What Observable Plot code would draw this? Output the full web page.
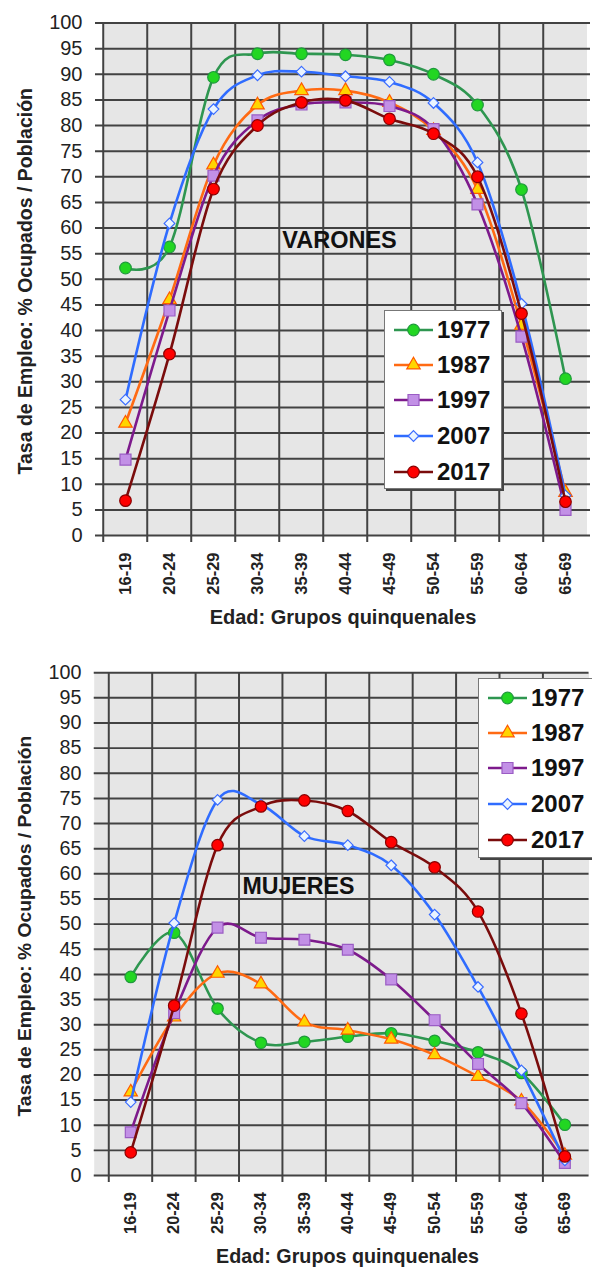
<!DOCTYPE html>
<html><head><meta charset="utf-8">
<script src="https://cdn.jsdelivr.net/npm/d3@7"></script>
<script src="https://cdn.jsdelivr.net/npm/@observablehq/plot@0.6"></script>
<style>
body{margin:0;background:#fff;font-family:"Liberation Sans",Arial,sans-serif;}
#wrap{position:relative;width:592px;height:1274px;overflow:hidden;background:#fff;}
.panel{position:absolute;left:0;}
.legend{position:absolute;background:#fff;border:1px solid #777;box-shadow:2px 2px 0 #444;}
.legend .row{position:absolute;left:0;height:30px;display:flex;align-items:center;}
.legend .row span{font-weight:bold;font-size:24px;color:#111;margin-left:4px;line-height:30px;}
</style></head><body><div id="wrap"></div>
<script>
// ---------- DATA ----------
const ages = ["16-19","20-24","25-29","30-34","35-39","40-44","45-49","50-54","55-59","60-64","65-69"];
const years = ["1977","1987","1997","2007","2017"];
const yTicks = [0,5,10,15,20,25,30,35,40,45,50,55,60,65,70,75,80,85,90,95,100];

// Varones
const varones1977 = [52.2, 56.3, 89.4, 94.0, 94.0, 93.8, 92.8, 90.0, 84.0, 67.5, 30.6];
const varones1987 = [21.9, 46.0, 72.3, 84.0, 86.8, 86.8, 84.5, 79.0, 67.5, 41.0, 8.4];
const varones1997 = [14.8, 43.9, 70.2, 81.0, 84.1, 84.5, 83.8, 79.3, 64.6, 38.8, 5.0];
const varones2007 = [26.5, 60.9, 83.2, 89.8, 90.5, 89.6, 88.5, 84.4, 72.8, 45.2, 7.8];
const varones2017 = [6.8, 35.4, 67.6, 80.0, 84.5, 84.9, 81.3, 78.4, 70.0, 43.3, 6.6];

// Mujeres
const mujeres1977 = [39.5, 48.3, 33.2, 26.4, 26.6, 27.6, 28.3, 26.8, 24.5, 20.4, 10.1];
const mujeres1987 = [16.6, 31.5, 40.2, 38.1, 30.5, 28.9, 27.1, 24.0, 19.7, 14.8, 4.0];
const mujeres1997 = [8.6, 32.3, 49.3, 47.3, 46.9, 44.9, 39.0, 30.9, 22.2, 14.4, 2.5];
const mujeres2007 = [14.6, 50.2, 74.7, 73.8, 67.5, 65.7, 61.7, 51.9, 37.5, 20.9, 3.0];
const mujeres2017 = [4.6, 33.8, 65.7, 73.4, 74.6, 72.5, 66.3, 61.3, 52.5, 32.2, 3.8];

// Series styles
const lineColors = ["#2e9650", "#ff6a13", "#7d1a8c", "#2f6cff", "#7a0c0c"];
const markerFills = ["#22d622", "#ffd500", "#c290e6", "#eaf4ff", "#ff0000"];
const markerStrokes = ["#1f9a3c", "#ff5a00", "#9a5cc4", "#3a6cff", "#8a0000"];
const markerSymbols = ["circle", "triangle", "square", "diamond2", "circle"];
const markerRadii = [5.8, 5.0, 6.2, 4.8, 5.8];

const yTitle = "Tasa de Empleo: % Ocupados / Población";
const xTitle = "Edad: Grupos quinquenales";
const varonesLabel = [{text: "VARONES", age: "40-44", value: 57.6}];
const mujeresLabel = [{text: "MUJERES", age: "35-39", value: 57.5}];

// ---------- DRAW ----------
const FONT = "'Liberation Sans', Arial, sans-serif";
const wrap = document.getElementById("wrap");

function panel(series, label, opt) {
  const {width, height, marginTop, marginBottom, marginLeft, marginRight, insetLeft, top, titleDx, frameFill} = opt;
  const bw = (width - marginLeft - marginRight - insetLeft) / ages.length;
  const gridColor = "#424242";
  const marks = [];
  if (frameFill) marks.push(Plot.frame({fill: "#e6e6e6", stroke: null}));
  marks.push(Plot.cell(ages, {x: d => d, fill: "#e6e6e6", inset: 0}));
  marks.push(Plot.ruleY(yTicks, {stroke: gridColor, strokeWidth: 2}));
  marks.push(Plot.ruleX(ages, {x: d => d, dx: -bw / 2, stroke: gridColor, strokeWidth: 2, insetBottom: -7}));
  marks.push(Plot.axisY(yTicks, {tickSize: 0, tickPadding: 13, fontSize: 20, fill: "#222", label: null}));
  marks.push(Plot.axisX({tickSize: 0, tickPadding: 17, tickRotate: -90, fontSize: 16.5, fontWeight: "bold", fill: "#222", label: null}));
  series.forEach((vals, i) => {
    const rows = vals.map((v, j) => ({age: ages[j], value: v}));
    marks.push(Plot.line(rows, {x: "age", y: "value", stroke: lineColors[i], strokeWidth: 2.6, curve: "cardinal"}));
    marks.push(Plot.dot(rows, {x: "age", y: "value", symbol: markerSymbols[i], r: markerRadii[i], fill: markerFills[i], stroke: markerStrokes[i], strokeWidth: 1.2}));
  });
  marks.push(Plot.text(label, {x: "age", y: "value", text: "text", dx: -6, fontSize: 23.5, fontWeight: "bold", fill: "#111"}));
  marks.push(Plot.text([yTitle], {text: d => d, frameAnchor: "left", dx: -70, dy: 2, rotate: -90, textAnchor: "middle", lineAnchor: "middle", fontSize: 19.5, fontWeight: "bold", fill: "#222"}));
  marks.push(Plot.text([xTitle], {text: d => d, frameAnchor: "bottom", dy: 82, dx: titleDx, textAnchor: "middle", lineAnchor: "middle", fontSize: 20, fontWeight: "bold", fill: "#222"}));
  const svg = Plot.plot({
    width, height, marginTop, marginBottom, marginLeft, marginRight,
    style: {fontFamily: FONT, background: "transparent", overflow: "visible"},
    x: {type: "band", domain: ages, padding: 0, insetLeft, axis: null},
    y: {domain: [0, 100], axis: null},
    marks
  });
  svg.classList.add("panel");
  svg.style.top = top + "px";
  wrap.appendChild(svg);
}

function legend(left, top, w, h) {
  const div = document.createElement("div");
  div.className = "legend";
  div.style.left = left + "px"; div.style.top = top + "px";
  div.style.width = w + "px"; div.style.height = h + "px";
  const rowTops = [4, 39, 74, 110, 146];
  years.forEach((yr, i) => {
    const row = document.createElement("div");
    row.className = "row";
    row.style.top = rowTops[i] + "px";
    const s = d3.create("svg").attr("width", 48).attr("height", 30);
    s.append("line").attr("x1", 9).attr("x2", 48).attr("y1", 15).attr("y2", 15)
      .attr("stroke", lineColors[i]).attr("stroke-width", 2.6);
    const sym = {circle: d3.symbolCircle, triangle: d3.symbolTriangle, square: d3.symbolSquare, diamond2: d3.symbolDiamond2}[markerSymbols[i]];
    s.append("path").attr("transform", "translate(28.5,15)")
      .attr("d", d3.symbol(sym, Math.PI * markerRadii[i] * markerRadii[i])())
      .attr("fill", markerFills[i]).attr("stroke", markerStrokes[i]).attr("stroke-width", 1.2);
    row.appendChild(s.node());
    const t = document.createElement("span");
    t.textContent = yr;
    row.appendChild(t);
    div.appendChild(row);
  });
  wrap.appendChild(div);
}

panel([varones1977, varones1987, varones1997, varones2007, varones2017], varonesLabel,
  {width: 592, height: 637, marginTop: 22.5, marginBottom: 102, marginLeft: 95, marginRight: 2, insetLeft: 5, top: 0, titleDx: 0, frameFill: false});
panel([mujeres1977, mujeres1987, mujeres1997, mujeres2007, mujeres2017], mujeresLabel,
  {width: 600, height: 637, marginTop: 35.7, marginBottom: 91.7, marginLeft: 95, marginRight: 3.5, insetLeft: 12, top: 637, titleDx: 6, frameFill: true});

legend(384, 310, 116, 177);
legend(478, 678, 130, 178);
</script>
</body></html>
